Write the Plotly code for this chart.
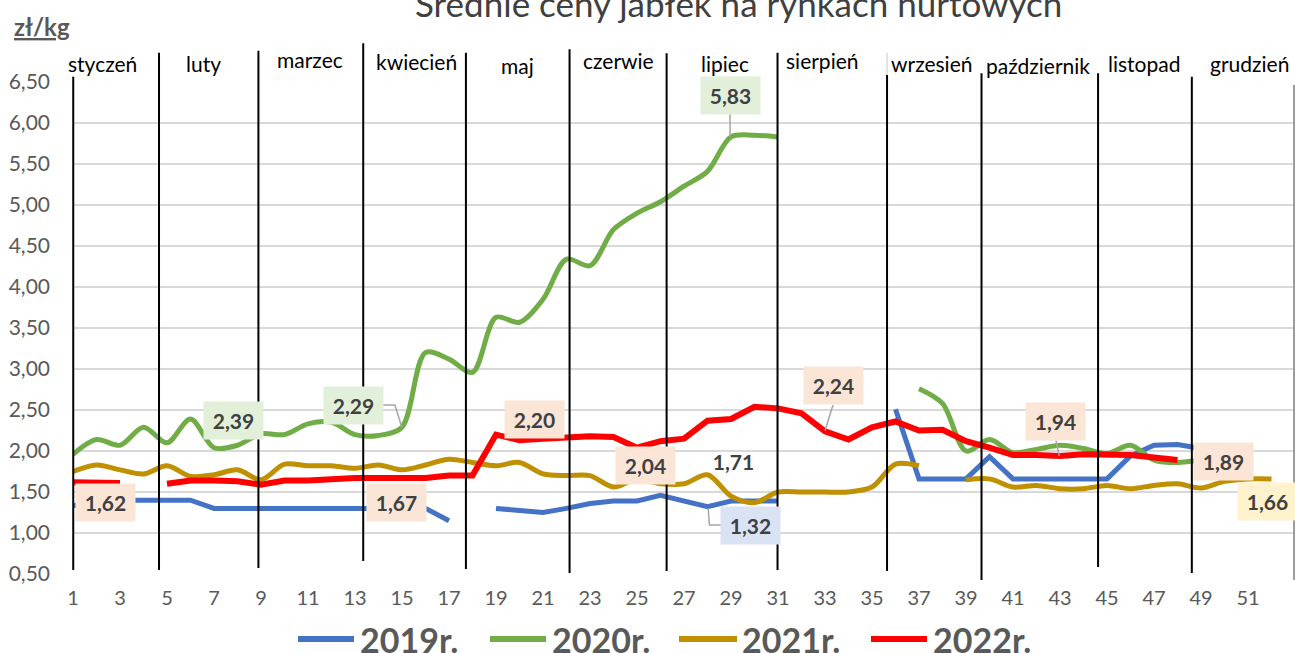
import plotly.graph_objects as go

# ---------------- data ----------------
weeks = list(range(1, 53))
N = None
p2019 = [1.33, 1.40, 1.40, 1.40, 1.40, 1.40, 1.30, 1.30, 1.30, 1.30, 1.30, 1.30, 1.30, 1.30, 1.30, 1.30, 1.15, N,
         1.30, 1.28, 1.25, 1.30, 1.36, 1.39, 1.39, 1.46, 1.39, 1.32, 1.39, 1.39, 1.39, N, N, N, N,
         2.51, 1.66, 1.66, 1.66, 1.93, 1.66, 1.66, 1.66, 1.66, 1.66, 1.94, 2.07, 2.08, 2.03, N, N, N]
p2020 = [1.96, 2.14, 2.07, 2.29, 2.10, 2.39, 2.04, 2.07, 2.21, 2.20, 2.33, 2.35, 2.20, 2.19, 2.29, 3.20, 3.12, 2.96,
         3.63, 3.57, 3.85, 4.34, 4.26, 4.70, 4.90, 5.04, 5.23, 5.41, 5.83, 5.85, 5.83,
         N, N, N, N, N,
         2.76, 2.58, 2.00, 2.14, 1.98, 2.02, 2.07, 2.03, 1.97, 2.07, 1.89, 1.86, 1.89, N, N, N]
p2021 = [1.75, 1.83, 1.77, 1.72, 1.82, 1.69, 1.71, 1.77, 1.65, 1.84, 1.82, 1.82, 1.79, 1.83, 1.77, 1.83, 1.90, 1.86,
         1.82, 1.86, 1.72, 1.70, 1.70, 1.56, 1.66, 1.60, 1.60, 1.71, 1.45, 1.37, 1.50, 1.50, 1.50, 1.50, 1.56, 1.84, 1.82,
         N,
         1.65, 1.66, 1.56, 1.58, 1.54, 1.54, 1.58, 1.54, 1.58, 1.60, 1.55, 1.63, 1.66, 1.66]
p2022 = [1.62, 1.61, 1.61, N, 1.60, 1.64, 1.64, 1.63, 1.59, 1.64, 1.64, 1.66, 1.67, 1.67, 1.67, 1.67, 1.70, 1.70,
         2.20, 2.13, 2.15, 2.16, 2.18, 2.17, 2.04, 2.12, 2.15, 2.37, 2.39, 2.54, 2.52, 2.46, 2.24, 2.14, 2.29, 2.36,
         2.25, 2.26, 2.12, 2.04, 1.95, 1.95, 1.94, 1.96, 1.96, 1.95, 1.92, 1.89, N, N, N, N]
series_names = ["2019r.", "2020r.", "2021r.", "2022r."]
series_values = [p2019, p2020, p2021, p2022]
for s in series_values:
    assert len(s) == 52

y_ticks = [0.5, 1.0, 1.5, 2.0, 2.5, 3.0, 3.5, 4.0, 4.5, 5.0, 5.5, 6.0, 6.5]
y_ticktext = ["0,50", "1,00", "1,50", "2,00", "2,50", "3,00", "3,50", "4,00", "4,50", "5,00", "5,50", "6,00", "6,50"]
x_ticks = list(range(1, 53, 2))

months = ["styczeń", "luty", "marzec", "kwiecień", "maj", "czerwie", "lipiec", "sierpień",
          "wrzesień", "październik", "listopad", "grudzień"]

label_texts = ["1,62", "2,39", "2,29", "1,67", "2,20", "2,04", "1,71", "5,83", "1,32", "2,24", "1,94", "1,89", "1,66"]

# ---------------- styling / layout ----------------
W, H = 1295, 653
L, R, T, B = 73, 0, 82, 79
PW, PH = W - L - R, H - T - B
XMIN, XMAX = 1, 53
YMIN, YMAX = 0.5, 6.5


def xp(w):
    return (w - XMIN) / (XMAX - XMIN)


def yp(v):
    return (v - YMIN) / (YMAX - YMIN)


def pxp(px):
    return (px - L) / PW


def pyp(py):
    return (T + PH - py) / PH


colors = ["#4472C4", "#70AD47", "#BF9000", "#FF0000"]
widths = [5, 5, 5, 6]
shapes_kind = ["linear", "spline", "spline", "linear"]
FONT = "Lato"

fig = go.Figure()
for name, vals, c, w, sh in zip(series_names, series_values, colors, widths, shapes_kind):
    line = dict(color=c, width=w, shape=sh)
    if sh == "spline":
        line["smoothing"] = 0.9
    fig.add_trace(go.Scatter(x=weeks, y=vals, mode="lines", name=name, line=line,
                             connectgaps=False, showlegend=False))

shapes = []
annotations = []

# month separator lines (week position, top value, bottom value)
month_line_week = [1.01, 4.66, 8.89, 13.35, 17.72, 22.13, 26.26, 30.98, 35.64, 39.66, 44.62, 48.61, 52.96]
month_line_top = [6.565, 6.857, 6.882, 6.972, 6.857, 6.899, 6.850, 6.857, 6.585, 6.606, 6.606, 6.565, 6.463]
month_line_bot = [0.549, 0.549, 0.573, 0.659, 0.561, 0.512, 0.537, 0.549, 0.537, 0.427, 0.585, 0.512, 0.427]

# white text-box backgrounds hiding parts of the top gridline
shapes.append(dict(type="rect", xref="paper", yref="paper", x0=pxp(366), x1=pxp(463), y0=pyp(90), y1=pyp(72),
                   fillcolor="white", line=dict(width=0), layer="above"))
shapes.append(dict(type="rect", xref="paper", yref="paper", x0=pxp(1206), x1=pxp(1240), y0=pyp(90), y1=pyp(72),
                   fillcolor="white", line=dict(width=0), layer="above"))

for i, (wk, tp, bt) in enumerate(zip(month_line_week, month_line_top, month_line_bot)):
    col = "#9a9a9a" if i == len(month_line_week) - 1 else "black"
    shapes.append(dict(type="line", xref="paper", yref="paper", x0=xp(wk), x1=xp(wk), y0=yp(bt), y1=yp(tp),
                       line=dict(color=col, width=2), layer="above"))
shapes.append(dict(type="line", xref="paper", yref="paper", x0=xp(35.64), x1=xp(35.64), y0=yp(6.585), y1=yp(6.857),
                   line=dict(color="#c8c8c8", width=1), layer="above"))

month_label_week = [2.26, 6.57, 11.09, 15.62, 19.91, 24.21, 28.74, 32.89, 37.53, 42.05, 46.57, 51.06]
month_label_val = [6.728, 6.728, 6.777, 6.744, 6.707, 6.760, 6.728, 6.768, 6.728, 6.707, 6.728, 6.720]
for m, wk, v in zip(months, month_label_week, month_label_val):
    annotations.append(dict(text=m, x=xp(wk), y=yp(v), xref="paper", yref="paper", showarrow=False,
                            font=dict(family=FONT, size=21, color="black"), xanchor="center", yanchor="middle"))

# data labels
label_week = [2.38, 7.85, 12.94, 14.77, 20.64, 25.38, 29.09, 28.96, 29.85, 33.37, 42.81, 49.94, 51.84]
label_val = [1.366, 2.378, 2.555, 1.366, 2.390, 1.823, 1.870, 6.335, 1.091, 2.796, 2.357, 1.878, 1.390]
label_bg = ["#FBE5D6", "#E2F0D9", "#E2F0D9", "#FBE5D6", "#FBE5D6", "#FBE5D6", "rgba(0,0,0,0)", "#E2F0D9",
            "#DAE3F3", "#FBE5D6", "#FBE5D6", "#FBE5D6", "#FFF2CC"]
for t, wk, v, bg in zip(label_texts, label_week, label_val, label_bg):
    annotations.append(dict(text="<b>" + t + "</b>", x=xp(wk), y=yp(v), xref="paper", yref="paper",
                            showarrow=False, font=dict(family=FONT, size=21, color="#404040"), bgcolor=bg,
                            width=59, height=37, borderpad=0, xanchor="center", yanchor="middle"))

# leader lines
leaders = [
    [(28.96, 6.110), (28.96, 5.829)],
    [(14.19, 2.561), (14.70, 2.561), (14.99, 2.293)],
    [(28.60, 1.098), (28.08, 1.098), (28.03, 1.301)],
    [(33.34, 2.561), (33.00, 2.248)],
    [(42.83, 2.126), (42.97, 1.939)],
]
for pts in leaders:
    path = "M " + " L ".join(f"{xp(a)},{yp(b)}" for a, b in pts)
    shapes.append(dict(type="path", xref="paper", yref="paper", path=path,
                       line=dict(color="#A6A6A6", width=1.5), layer="above"))

# legend (manual, Excel style)
leg_line_x = [(298, 354), (490, 546), (679, 737), (871, 927)]
leg_text_x = [358, 550, 740, 931]
leg_y = 639
for (a, b), tx, c, nm in zip(leg_line_x, leg_text_x, colors, series_names):
    shapes.append(dict(type="line", xref="paper", yref="paper", x0=pxp(a), x1=pxp(b), y0=pyp(leg_y), y1=pyp(leg_y),
                       line=dict(color=c, width=6)))
    annotations.append(dict(text="<b>" + nm + "</b>", x=pxp(tx), y=pyp(leg_y), xref="paper", yref="paper",
                            showarrow=False, xanchor="left", yanchor="middle",
                            font=dict(family=FONT, size=34, color="#595959")))

# title and unit
annotations.append(dict(text="Średnie ceny jabłek na rynkach hurtowych", x=pxp(738), y=pyp(3), xref="paper",
                        yref="paper", showarrow=False, xanchor="center", yanchor="middle",
                        font=dict(family=FONT, size=35, color="#404040")))
annotations.append(dict(text="<b><u>zł/kg</u></b>", x=pxp(42), y=pyp(27), xref="paper", yref="paper",
                        showarrow=False, xanchor="center", yanchor="middle",
                        font=dict(family=FONT, size=24, color="#595959")))

fig.update_layout(
    width=W, height=H,
    margin=dict(l=L, r=R, t=T, b=B, pad=0),
    paper_bgcolor="white", plot_bgcolor="white",
    font=dict(family=FONT),
    shapes=shapes, annotations=annotations,
    showlegend=False,
    xaxis=dict(range=[XMIN, XMAX], tickmode="array", tickvals=x_ticks, ticktext=[str(v) for v in x_ticks],
               showgrid=False, zeroline=False, showline=False, ticks="",
               tickfont=dict(family=FONT, size=20, color="#595959"), ticklabelstandoff=10, fixedrange=True),
    yaxis=dict(range=[YMIN, YMAX], tickmode="array", tickvals=y_ticks, ticktext=y_ticktext,
               showgrid=True, gridcolor="#D9D9D9", gridwidth=1.5, zeroline=False, showline=False, ticks="",
               tickfont=dict(family=FONT, size=21, color="#595959"), ticklabelstandoff=22, fixedrange=True),
)

fig.write_html("out.html", config={"displayModeBar": False},
               post_script="document.body.style.margin='0';document.body.style.overflow='hidden';")
